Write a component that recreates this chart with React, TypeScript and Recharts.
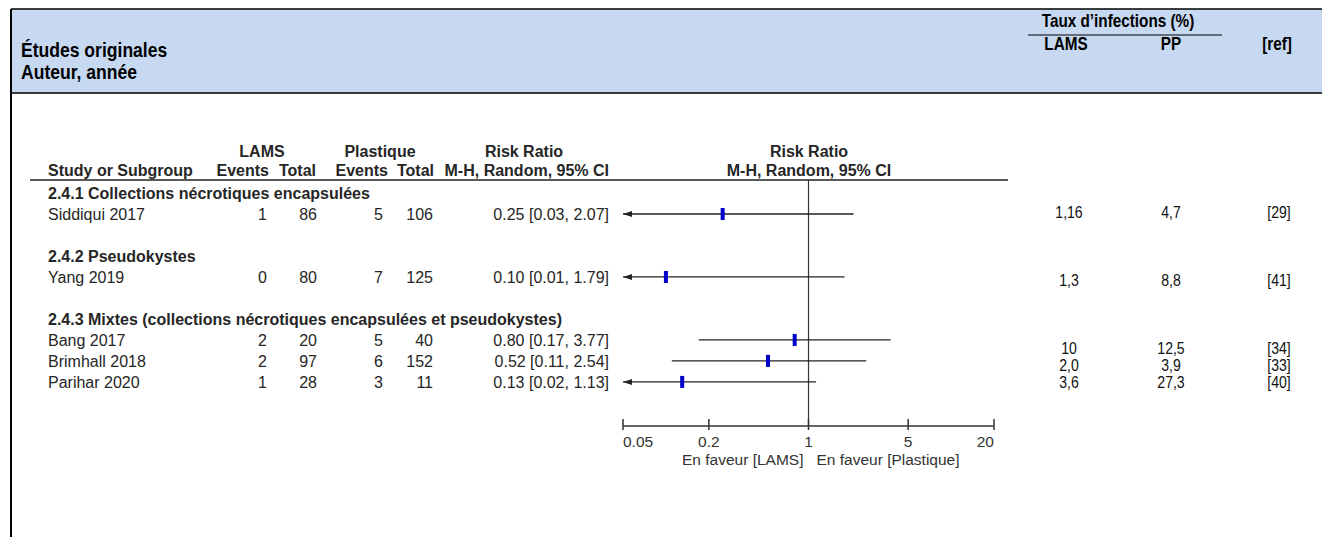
import React from "react";
import { ScatterChart, Scatter, XAxis, YAxis, ReferenceLine } from "recharts";

// ---------- data ----------
const subgroups = [
  "2.4.1 Collections nécrotiques encapsulées",
  "2.4.2 Pseudokystes",
  "2.4.3 Mixtes (collections nécrotiques encapsulées et pseudokystes)",
];
const studies = ["Siddiqui 2017", "Yang 2019", "Bang 2017", "Brimhall 2018", "Parihar 2020"];
const studySubgroup = [0, 1, 2, 2, 2];
const lamsEvents = [1, 0, 2, 2, 1];
const lamsTotal = [86, 80, 20, 97, 28];
const plastEvents = [5, 7, 5, 6, 3];
const plastTotal = [106, 125, 40, 152, 11];
const riskRatio = [0.25, 0.1, 0.8, 0.52, 0.13];
const ciLow = [0.03, 0.01, 0.17, 0.11, 0.02];
const ciHigh = [2.07, 1.79, 3.77, 2.54, 1.13];
const infLams = ["1,16", "1,3", "10", "2,0", "3,6"];
const infPP = ["4,7", "8,8", "12,5", "3,9", "27,3"];
const refs = ["[29]", "[41]", "[34]", "[33]", "[40]"];
const axisTicks = [0.05, 0.2, 1, 5, 20];
const axisDomain = [0.05, 20];

// ---------- rows (forest table) ----------
type Row = { kind: "head"; label: string } | { kind: "study"; i: number } | { kind: "blank" };
const rows: Row[] = [];
subgroups.forEach((g, gi) => {
  if (gi > 0) rows.push({ kind: "blank" });
  rows.push({ kind: "head", label: g });
  studies.forEach((_, i) => {
    if (studySubgroup[i] === gi) rows.push({ kind: "study", i });
  });
});
const studyRow = studies.map((_, i) => rows.findIndex((r) => r.kind === "study" && (r as any).i === i));
const rowTicks = rows.map((_, i) => i);
const points = studies.map((name, i) => ({ name, x: riskRatio[i], y: studyRow[i] }));

// ---------- lines of the right-hand table (its own line grid) ----------
const LINES_PER_GROUP = 4;
const rightLine = studies.map(
  (_, i) => studySubgroup[i] * LINES_PER_GROUP + studies.slice(0, i).filter((__, j) => studySubgroup[j] === studySubgroup[i]).length
);

// ---------- style ----------
const W = 1322;
const H = 537;
const FONT = "'Liberation Sans', Arial, Helvetica, sans-serif";
const FS = 16;
const AFS = 15.5;
const TXT = "#262626";
const HEADER_BG = "#C6D9F1";

const fmt = (v: number) => v.toFixed(2);

// horizontally condensed text (emulates Arial Narrow)
const NText = (p: any) => {
  const { x, y, k, anchor, size, bold, children, fill } = p;
  return (
    <text
      transform={`translate(${x},${y}) scale(${k},1)`}
      textAnchor={anchor || "start"}
      fontFamily={FONT}
      fontSize={size}
      fontWeight={bold ? "bold" : "normal"}
      fill={fill || "#000"}
    >
      {children}
    </text>
  );
};

const LeftTick = (props: any) => {
  const { y, payload } = props;
  const r = rows[payload.value];
  if (!r || r.kind === "blank") return <g />;
  if (r.kind === "head")
    return (
      <text x={48} y={y} dy="0.36em" fontFamily={FONT} fontSize={FS} fontWeight="bold" fill={TXT}>
        {r.label}
      </text>
    );
  const i = r.i;
  return (
    <g fontFamily={FONT} fontSize={FS} fill={TXT}>
      <text x={48} y={y} dy="0.36em">{studies[i]}</text>
      <text x={267} y={y} dy="0.36em" textAnchor="end">{lamsEvents[i]}</text>
      <text x={317} y={y} dy="0.36em" textAnchor="end">{lamsTotal[i]}</text>
      <text x={383} y={y} dy="0.36em" textAnchor="end">{plastEvents[i]}</text>
      <text x={433} y={y} dy="0.36em" textAnchor="end">{plastTotal[i]}</text>
      <text x={609} y={y} dy="0.36em" textAnchor="end">
        {`${fmt(riskRatio[i])} [${fmt(ciLow[i])}, ${fmt(ciHigh[i])}]`}
      </text>
    </g>
  );
};

const RightTick = (props: any) => {
  const { y, payload } = props;
  const i = rightLine.indexOf(payload.value);
  if (i < 0) return <g />;
  const by = y + 5.5;
  return (
    <g>
      <NText x={1069} y={by} k={0.88} size={16} anchor="middle" fill="#111">{infLams[i]}</NText>
      <NText x={1171} y={by} k={0.88} size={16} anchor="middle" fill="#111">{infPP[i]}</NText>
      <NText x={1279} y={by} k={0.88} size={16} anchor="middle" fill="#111">{refs[i]}</NText>
    </g>
  );
};

const XTick = (props: any) => {
  const { x, y, payload, index } = props;
  const anchor = index === 0 ? "start" : index === axisTicks.length - 1 ? "end" : "middle";
  return (
    <g>
      <line x1={x} x2={x} y1={y - 7} y2={y + 4} stroke="#333" strokeWidth={1.5} />
      <text x={x} y={y + 15} dy="0.36em" textAnchor={anchor} fontFamily={FONT} fontSize={AFS} fill="#333">
        {payload.value}
      </text>
    </g>
  );
};

const FavourLabel = (props: any) => {
  const { viewBox } = props;
  const cx = viewBox.x + viewBox.width / 2;
  const y = viewBox.y + 33;
  return (
    <g fontFamily={FONT} fontSize={AFS} fill="#333">
      <text x={cx - 5} y={y} dy="0.36em" textAnchor="end">En faveur [LAMS]</text>
      <text x={cx + 8} y={y} dy="0.36em" textAnchor="start">En faveur [Plastique]</text>
    </g>
  );
};

const Marker = (p: any) => <rect x={p.cx - 2} y={p.cy - 6} width={4} height={12} fill="#0000CC" />;

const ciShape = (arrow: boolean) => (p: any) => {
  const { x1, y1, x2, y2 } = p;
  return (
    <g>
      <line x1={x1} y1={y1} x2={x2} y2={y2} stroke="#222" strokeWidth={1.3} />
      {arrow && <polygon points={`${x1},${y1} ${x1 + 9},${y1 - 3} ${x1 + 9},${y1 + 3}`} fill="#222" />}
    </g>
  );
};

const Overlay = () => (
  <svg width={W} height={H} style={{ position: "absolute", left: 0, top: 0 }}>
    <rect x={11} y={9} width={W - 11} height={84} fill={HEADER_BG} />
    <line x1={11} x2={W} y1={9} y2={9} stroke="#000" strokeWidth={1.5} />
    <line x1={11} x2={W} y1={93} y2={93} stroke="#000" strokeWidth={1.5} />
    <line x1={11} x2={11} y1={9} y2={H} stroke="#000" strokeWidth={2} />
    <NText x={21} y={57} k={0.9} size={19.5} bold>Études originales</NText>
    <NText x={21} y={79} k={0.9} size={19.5} bold>Auteur, année</NText>
    <NText x={1118} y={27} k={0.85} size={18} bold anchor="middle">Taux d’infections (%)</NText>
    <NText x={1066} y={50} k={0.85} size={18} bold anchor="middle">LAMS</NText>
    <NText x={1171} y={50} k={0.85} size={18} bold anchor="middle">PP</NText>
    <NText x={1277} y={50} k={0.85} size={18} bold anchor="middle">[ref]</NText>
    <line x1={1028} x2={1222} y1={35} y2={35} stroke="#000" strokeWidth={1.2} />
    <g fontFamily={FONT} fontSize={FS} fontWeight="bold" fill={TXT}>
      <text x={262} y={157} textAnchor="middle">LAMS</text>
      <text x={380} y={157} textAnchor="middle">Plastique</text>
      <text x={524} y={157} textAnchor="middle">Risk Ratio</text>
      <text x={809} y={157} textAnchor="middle">Risk Ratio</text>
      <text x={48} y={176}>Study or Subgroup</text>
      <text x={269} y={176} textAnchor="end">Events</text>
      <text x={316} y={176} textAnchor="end">Total</text>
      <text x={388} y={176} textAnchor="end">Events</text>
      <text x={434} y={176} textAnchor="end">Total</text>
      <text x={609} y={176} textAnchor="end">M-H, Random, 95% CI</text>
      <text x={809} y={176} textAnchor="middle">M-H, Random, 95% CI</text>
    </g>
    <line x1={30} x2={1008} y1={180} y2={180} stroke="#222" strokeWidth={1.5} />
  </svg>
);

// right table: first line at y=212, 17px per line; plot spans y 180..426
const R_DOMAIN = [-32 / 17, 214 / 17];
const rightTicks = Array.from({ length: 13 }, (_, i) => i);

export default function App() {
  return (
    <div style={{ position: "absolute", left: 0, top: 0, width: W, height: H, background: "#fff" }}>
      <Overlay />
      <div style={{ position: "absolute", left: 0, top: 0 }}>
        <ScatterChart width={W} height={H} margin={{ top: 180, right: 0, bottom: 0, left: 0 }}>
          <XAxis
            type="number"
            dataKey="x"
            scale="log"
            domain={axisDomain}
            ticks={axisTicks}
            allowDataOverflow
            interval={0}
            height={111}
            tickSize={0}
            tickMargin={0}
            tickLine={false}
            axisLine={{ stroke: "#333", strokeWidth: 1.5 }}
            tick={<XTick />}
            label={<FavourLabel />}
          />
          <YAxis
            yAxisId="L"
            type="number"
            dataKey="y"
            domain={[-0.62, 11.1]}
            reversed
            allowDataOverflow
            ticks={rowTicks}
            interval={0}
            width={623}
            axisLine={false}
            tickLine={false}
            tick={<LeftTick />}
          />
          <YAxis
            yAxisId="R"
            orientation="right"
            type="number"
            domain={R_DOMAIN}
            reversed
            allowDataOverflow
            ticks={rightTicks}
            interval={0}
            width={328}
            axisLine={false}
            tickLine={false}
            tick={<RightTick />}
          />
          <ReferenceLine yAxisId="L" x={1} stroke="#333" strokeWidth={1.2} ifOverflow="visible" />
          {studies.map((s, i) => (
            <ReferenceLine
              key={s}
              yAxisId="L"
              ifOverflow="visible"
              segment={[
                { x: Math.max(ciLow[i], axisDomain[0]), y: studyRow[i] },
                { x: ciHigh[i], y: studyRow[i] },
              ]}
              shape={ciShape(ciLow[i] < axisDomain[0])}
            />
          ))}
          <Scatter yAxisId="L" data={points} dataKey="y" shape={<Marker />} isAnimationActive={false} />
        </ScatterChart>
      </div>
    </div>
  );
}
